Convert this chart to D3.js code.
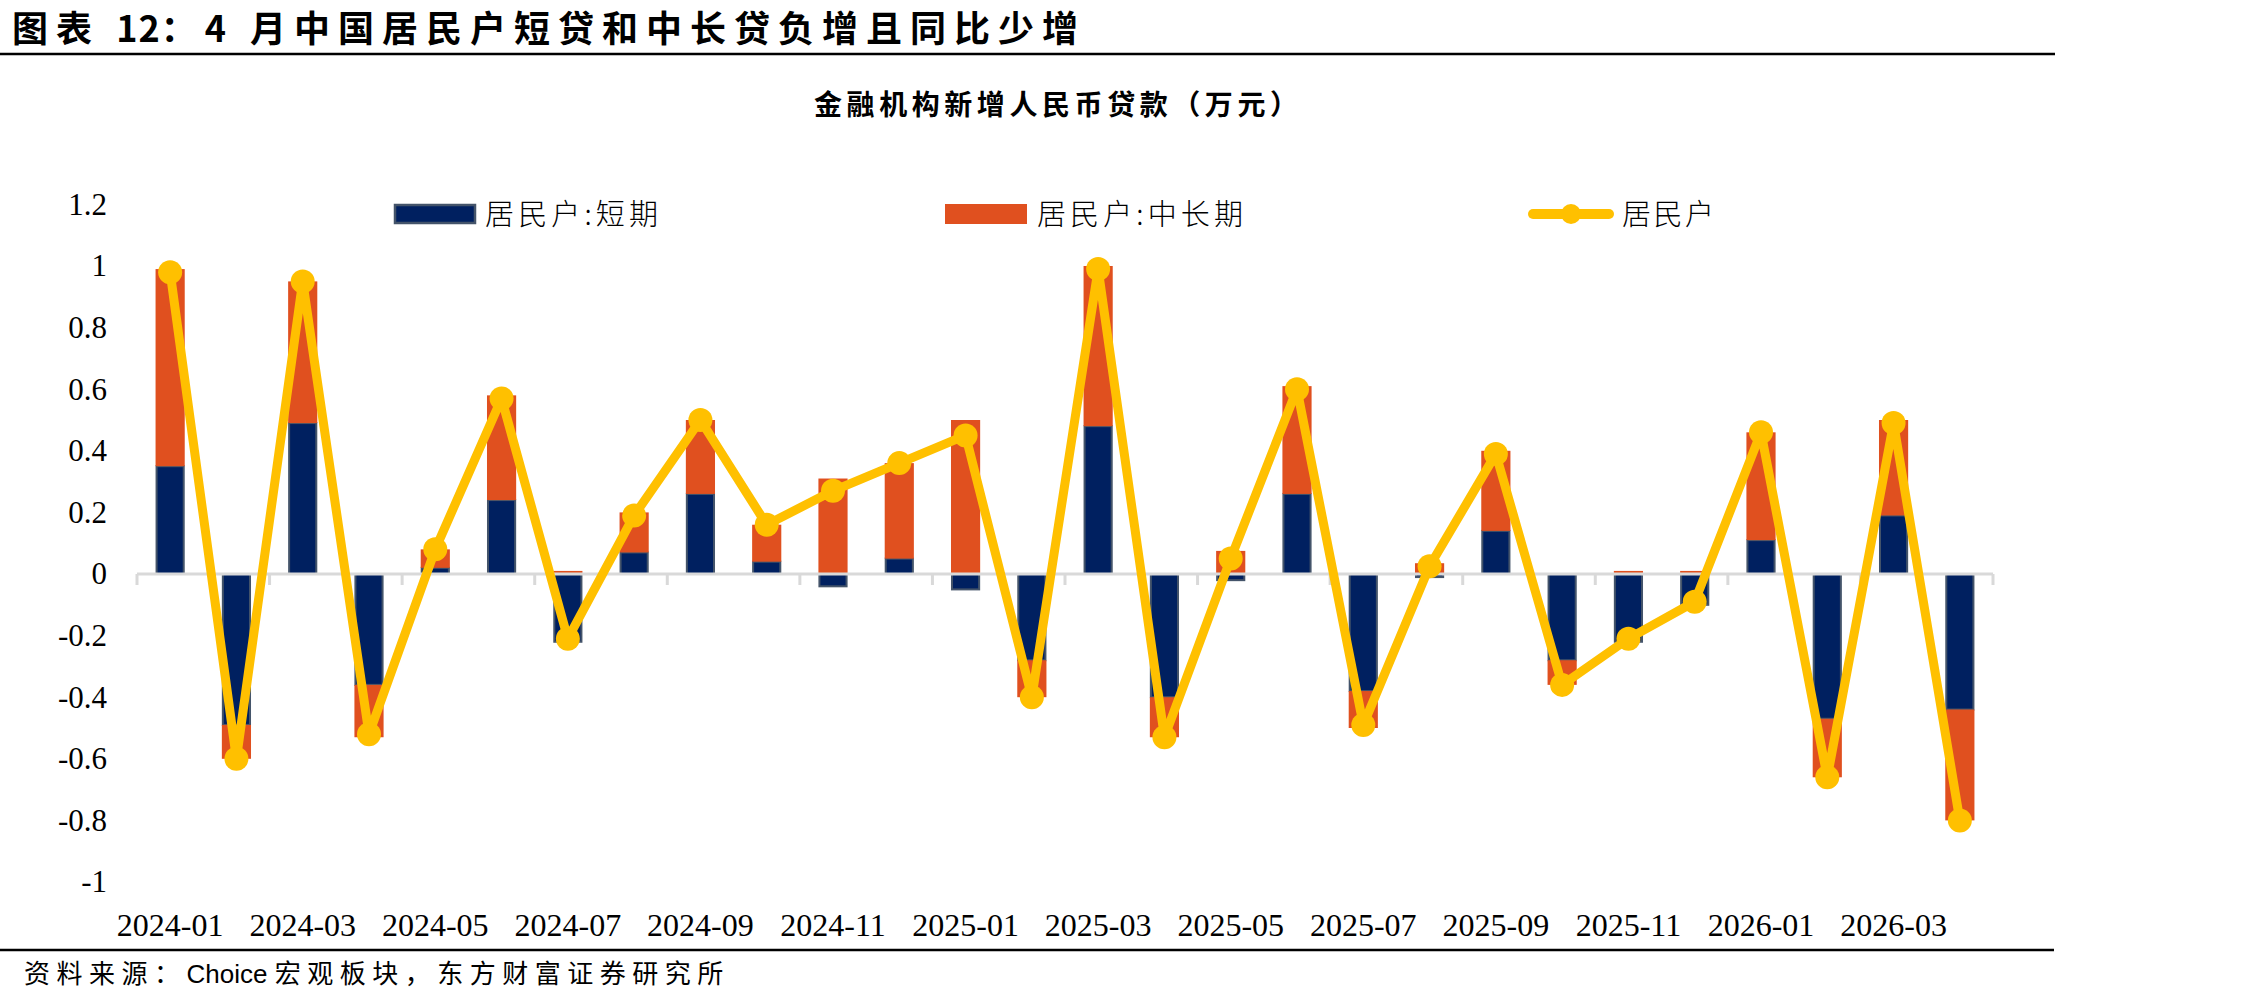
<!DOCTYPE html>
<html>
<head>
<meta charset="utf-8">
<script src="https://cdn.jsdelivr.net/npm/d3@7"></script>
<style>
  body { margin: 0; background: #fff; }
  text { font-family: "Noto Sans CJK SC", sans-serif; fill: #000; }
</style>
</head>
<body>
<div id="chart"></div>
<script>
// 月份
const months = [
  "2024-01","2024-02","2024-03","2024-04","2024-05","2024-06","2024-07","2024-08","2024-09","2024-10","2024-11","2024-12",
  "2025-01","2025-02","2025-03","2025-04","2025-05","2025-06","2025-07","2025-08","2025-09","2025-10","2025-11","2025-12",
  "2026-01","2026-02","2026-03","2026-04"
];
// 居民户:短期
const shortLoan = [0.35, -0.49, 0.49, -0.36, 0.02, 0.24, -0.22, 0.07, 0.26, 0.04, -0.04, 0.05,
  -0.05, -0.28, 0.48, -0.40, -0.02, 0.26, -0.38, -0.01, 0.14, -0.28, -0.22, -0.10,
  0.11, -0.47, 0.19, -0.44];
// 居民户:中长期
const longLoan = [0.64, -0.11, 0.46, -0.17, 0.06, 0.34, 0.01, 0.13, 0.24, 0.12, 0.31, 0.31,
  0.50, -0.12, 0.52, -0.13, 0.075, 0.35, -0.12, 0.035, 0.26, -0.08, 0.01, 0.01,
  0.35, -0.19, 0.31, -0.36];
// 居民户
const household = [0.98, -0.60, 0.95, -0.52, 0.08, 0.57, -0.21, 0.19, 0.50, 0.16, 0.27, 0.36,
  0.45, -0.40, 0.99, -0.53, 0.05, 0.60, -0.49, 0.025, 0.39, -0.36, -0.21, -0.09,
  0.46, -0.66, 0.49, -0.80];
const yTicks = [-1, -0.8, -0.6, -0.4, -0.2, 0, 0.2, 0.4, 0.6, 0.8, 1, 1.2];
const xLabels = months.filter((d, i) => i % 2 === 0);

const NAVY = "#002060", SLATE = "#44546A", ORANGE = "#E0501F", GOLD = "#FFC000", GRID = "#D9D9D9";

const W = 2245, H = 1003;
const svg = d3.select("#chart").append("svg")
    .attr("width", W)
    .attr("height", H);

// 標題
const title = svg.append("text")
    .attr("x", 12).attr("y", 42)
    .attr("font-size", 36).attr("font-weight", 700);
title.append("tspan").style("letter-spacing", "8px").text("图表 ");
title.append("tspan").style("letter-spacing", "1px").text("12");
title.append("tspan").style("letter-spacing", "8px").text("：4 月中国居民户短贷和中长贷负增且同比少增");

svg.append("line")
    .attr("x1", 0).attr("x2", 2055).attr("y1", 54).attr("y2", 54)
    .attr("stroke", "#000").attr("stroke-width", 2.5);

svg.append("text")
    .attr("x", 814).attr("y", 115)
    .attr("font-size", 28).attr("font-weight", 700)
    .attr("textLength", 484).attr("lengthAdjust", "spacing")
    .text("金融机构新增人民币贷款（万元）");

// 比例尺
const x = d3.scaleBand().domain(months).range([137, 1993]).padding(0);
const y = d3.scaleLinear().domain([-1, 1.2]).range([882, 204.4]);
const bw = x.bandwidth() * 0.44;
const cx = d => x(d) + x.bandwidth() / 2;

// y 軸
const yAxis = svg.append("g")
    .attr("transform", "translate(107,0)")
    .call(d3.axisLeft(y).tickValues(yTicks).tickSize(0).tickPadding(0)
        .tickFormat(d => String(+d.toFixed(1))));
yAxis.select(".domain").remove();
yAxis.selectAll("text")
    .attr("font-size", 31)
    .style("font-family", "'Liberation Serif', serif")
    .attr("fill", "#000");

// 堆疊柱
const rows = months.map((m, i) => ({month: m, short: shortLoan[i], long: longLoan[i]}));
const series = d3.stack().keys(["short", "long"]).offset(d3.stackOffsetDiverging)(rows);

svg.append("g").selectAll("rect")
    .data(series[0])
    .join("rect")
    .attr("x", d => cx(d.data.month) - bw / 2 + 1)
    .attr("width", bw - 2)
    .attr("y", d => y(Math.max(d[0], d[1])))
    .attr("height", d => Math.abs(y(d[0]) - y(d[1])))
    .attr("fill", NAVY)
    .attr("stroke", SLATE)
    .attr("stroke-width", 2);

svg.append("g").selectAll("rect")
    .data(series[1])
    .join("rect")
    .attr("x", d => cx(d.data.month) - bw / 2)
    .attr("width", bw)
    .attr("y", d => y(Math.max(d[0], d[1])))
    .attr("height", d => Math.abs(y(d[0]) - y(d[1])))
    .attr("fill", ORANGE);

// x 軸
const x0 = x.range()[0];
svg.append("line")
    .attr("x1", x0).attr("x2", x.range()[1])
    .attr("y1", y(0)).attr("y2", y(0))
    .attr("stroke", GRID).attr("stroke-width", 3);
svg.append("g").selectAll("line")
    .data(d3.range(0, months.length + 1, 2))
    .join("line")
    .attr("x1", i => x0 + i * x.step()).attr("x2", i => x0 + i * x.step())
    .attr("y1", y(0)).attr("y2", y(0) + 11)
    .attr("stroke", GRID).attr("stroke-width", 3);

const xAxis = svg.append("g")
    .attr("transform", "translate(0,936)")
    .call(d3.axisBottom(x).tickValues(xLabels).tickSize(0).tickPadding(0));
xAxis.select(".domain").remove();
xAxis.selectAll("text")
    .attr("y", 0).attr("dy", 0)
    .attr("font-size", 32)
    .style("font-family", "'Liberation Serif', serif")
    .attr("fill", "#000");

// 折線
const line = d3.line()
    .x((d, i) => cx(months[i]))
    .y(d => y(d));
svg.append("path")
    .datum(household)
    .attr("fill", "none")
    .attr("stroke", GOLD)
    .attr("stroke-width", 9)
    .attr("stroke-linejoin", "round")
    .attr("d", line);
svg.append("g").selectAll("circle")
    .data(household)
    .join("circle")
    .attr("cx", (d, i) => cx(months[i]))
    .attr("cy", d => y(d))
    .attr("r", 12)
    .attr("fill", GOLD);

// 圖例
const lg = svg.append("g");
lg.append("rect").attr("x", 395).attr("y", 205).attr("width", 80).attr("height", 18)
    .attr("fill", NAVY).attr("stroke", SLATE).attr("stroke-width", 2.5);
lg.append("text").attr("x", 485).attr("y", 225).attr("font-size", 29).attr("font-weight", 300)
    .attr("textLength", 173).attr("lengthAdjust", "spacing").text("居民户:短期");
lg.append("rect").attr("x", 945).attr("y", 204).attr("width", 82).attr("height", 20)
    .attr("fill", ORANGE);
lg.append("text").attr("x", 1037).attr("y", 225).attr("font-size", 29).attr("font-weight", 300)
    .attr("textLength", 206).attr("lengthAdjust", "spacing").text("居民户:中长期");
lg.append("line").attr("x1", 1533).attr("x2", 1609).attr("y1", 214).attr("y2", 214)
    .attr("stroke", GOLD).attr("stroke-width", 10).attr("stroke-linecap", "round");
lg.append("circle").attr("cx", 1571).attr("cy", 214).attr("r", 10).attr("fill", GOLD);
lg.append("text").attr("x", 1622).attr("y", 225).attr("font-size", 29).attr("font-weight", 300)
    .attr("textLength", 92).attr("lengthAdjust", "spacing").text("居民户");

// 資料來源
svg.append("line")
    .attr("x1", 0).attr("x2", 2054).attr("y1", 950).attr("y2", 950)
    .attr("stroke", "#000").attr("stroke-width", 2.5);
const src = svg.append("text")
    .attr("x", 24).attr("y", 983)
    .attr("font-size", 26).attr("font-weight", 400);
src.append("tspan").style("letter-spacing", "6.5px").text("资料来源：");
src.append("tspan").style("font-family", "'Liberation Sans', Arial, sans-serif").style("letter-spacing", "0px").text("Choice ");
src.append("tspan").style("letter-spacing", "6.5px").text("宏观板块，东方财富证券研究所");
</script>
</body>
</html>
